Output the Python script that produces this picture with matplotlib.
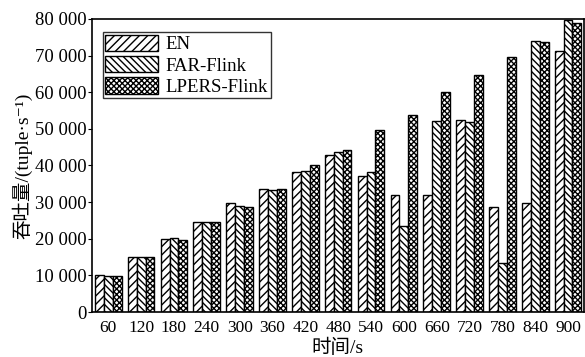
import numpy as np
import matplotlib.pyplot as plt
from matplotlib.ticker import FuncFormatter

plt.rcParams['font.family'] = ['Liberation Serif', 'Noto Sans CJK SC', 'DejaVu Serif']
plt.rcParams['hatch.linewidth'] = 1.0

# throughput per time point
times = [60, 120, 180, 240, 300, 360, 420, 480, 540, 600, 660, 720, 780, 840, 900]
en = [10000, 14900, 19850, 24650, 29700, 33500, 38100, 42950, 37000, 31850, 32000, 52300, 28650, 29650, 71300]
far_flink = [9750, 14900, 20100, 24600, 29000, 33400, 38400, 43700, 38100, 23450, 52050, 51950, 13250, 73900, 79800]
lpers_flink = [9750, 14900, 19650, 24600, 28750, 33650, 40000, 44150, 49750, 53800, 59950, 64600, 69700, 73650, 79000]

series = [('EN', en, '////'), ('FAR-Flink', far_flink, '\\\\\\\\\\'), ('LPERS-Flink', lpers_flink, 'xxxxxx')]

fig = plt.figure(figsize=(5.85, 3.57), dpi=100)
ax = fig.add_axes([0.157, 0.126, 0.841, 0.821])

x = np.arange(len(times))
w = 0.27
for i, (name, vals, hatch) in enumerate(series):
    ax.bar(x + (i - 1) * w, vals, w, color='white', edgecolor='black',
           hatch=hatch, linewidth=1.0, label=name)

ax.set_xlim(-0.5, 14.48)
ax.set_ylim(0, 80000)
ax.set_xticks(x)
ax.set_xticklabels([str(t) for t in times])
ax.set_yticks(np.arange(0, 80001, 10000))
ax.yaxis.set_major_formatter(FuncFormatter(lambda v, p: f'{int(v):,}'.replace(',', ' ')))
ax.tick_params(axis='x', length=0, labelsize=12.5, pad=6)
ax.tick_params(axis='y', direction='out', length=3, labelsize=13.5, pad=1)
for s in ax.spines.values():
    s.set_linewidth(1.2)

ax.set_xlabel('时间/s', fontsize=14, labelpad=2)
ax.set_ylabel('吞吐量/(tuple·s⁻¹)', fontsize=14, labelpad=2)

leg = ax.legend(loc='upper left', bbox_to_anchor=(0.022, 0.956), fontsize=13.5,
                frameon=True, fancybox=False, edgecolor='black',
                handlelength=2.8, handleheight=1.0, handletextpad=0.4,
                labelspacing=0.12, borderpad=0.15, borderaxespad=0)
leg.get_frame().set_linewidth(1.0)

fig.savefig('out.png', dpi=100)
